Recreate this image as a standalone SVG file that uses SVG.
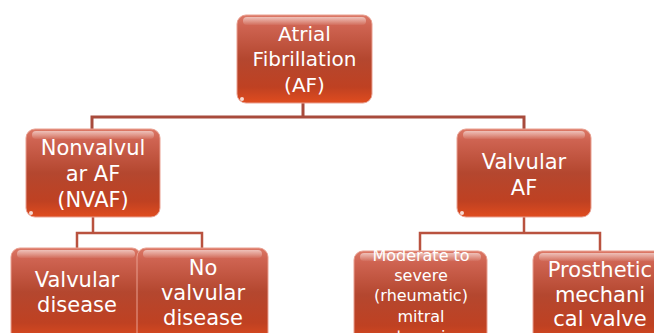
<svg xmlns="http://www.w3.org/2000/svg" width="654" height="333" viewBox="0 0 654 333">
  <defs>
    <linearGradient id="boxFill" x1="0" y1="0" x2="0" y2="1">
      <stop offset="0" stop-color="#dc7866"/>
      <stop offset="0.12" stop-color="#cf6452"/>
      <stop offset="0.5" stop-color="#b4472f"/>
      <stop offset="0.82" stop-color="#bf4122"/>
      <stop offset="1" stop-color="#e04c1f"/>
    </linearGradient>
    <linearGradient id="boxFillTall" x1="0" y1="0" x2="0" y2="1">
      <stop offset="0" stop-color="#dc7866"/>
      <stop offset="0.1" stop-color="#cf6452"/>
      <stop offset="0.4" stop-color="#b4472f"/>
      <stop offset="0.68" stop-color="#bf4122"/>
      <stop offset="0.85" stop-color="#e04c1f"/>
    </linearGradient>
    <linearGradient id="gloss" x1="0" y1="0" x2="0" y2="1">
      <stop offset="0" stop-color="#ffffff" stop-opacity="0.55"/>
      <stop offset="1" stop-color="#ffffff" stop-opacity="0.05"/>
    </linearGradient>
  </defs>
  <style>
    .box { fill: url(#boxFill); stroke: #e9a091; stroke-width: 1; }
    .tall { fill: url(#boxFillTall); }
    .gloss { fill: url(#gloss); }
    .glint { fill: #ffffff; opacity: 0.8; }
    .lbl { font-family: "DejaVu Sans", "Liberation Sans", sans-serif; font-size: 21px; fill: #ffffff; text-anchor: middle; }
    .top { font-size: 20px; }
    .sm { font-size: 16px; }
    .conn { fill: none; stroke: #a84b3c; stroke-width: 3; }
    .conn2 { fill: none; stroke: #b9523f; stroke-width: 2.5; }
  </style>

  <g id="connectors">
    <path class="conn" d="M303,103 V117 M92,117 H524 M92,115.5 V129 M524,115.5 V129"/>
    <path class="conn2" d="M93,217 V233 M77,233 H202 M77,231.8 V249 M202,231.8 V249"/>
    <path class="conn2" d="M524,217 V233 M420,233 H600 M420,231.8 V252 M600,231.8 V252"/>
  </g>

  <g id="node-af">
    <rect class="box" x="237" y="15" width="135" height="88" rx="9"/>
    <rect class="gloss" x="243" y="17" width="123" height="8" rx="4"/>
    <circle class="glint" cx="242" cy="99" r="2"/>
    <text class="lbl top" x="304.5" y="41">Atrial</text>
    <text class="lbl top" x="304.5" y="66">Fibrillation</text>
    <text class="lbl top" x="304.5" y="92">(AF)</text>
  </g>

  <g id="node-nvaf">
    <rect class="box" x="26" y="129" width="134" height="88" rx="9"/>
    <rect class="gloss" x="32" y="131" width="122" height="8" rx="4"/>
    <circle class="glint" cx="31" cy="213" r="2"/>
    <text class="lbl" x="93" y="155">Nonvalvul</text>
    <text class="lbl" x="93" y="181">ar AF</text>
    <text class="lbl" x="93" y="207">(NVAF)</text>
  </g>

  <g id="node-valvular-af">
    <rect class="box" x="457" y="129" width="134" height="88" rx="9"/>
    <rect class="gloss" x="463" y="131" width="122" height="8" rx="4"/>
    <circle class="glint" cx="462" cy="213" r="2"/>
    <text class="lbl" x="524" y="169">Valvular</text>
    <text class="lbl" x="524" y="195">AF</text>
  </g>

  <g id="node-valvular-disease">
    <rect class="box tall" x="11" y="248" width="130" height="110" rx="9"/>
    <rect class="gloss" x="17" y="250" width="118" height="8" rx="4"/>
    <text class="lbl" x="77" y="287">Valvular</text>
    <text class="lbl" x="77" y="312">disease</text>
  </g>

  <g id="node-no-valvular-disease">
    <rect class="box tall" x="137" y="248" width="131" height="110" rx="9"/>
    <rect class="gloss" x="143" y="250" width="119" height="8" rx="4"/>
    <text class="lbl" x="203" y="275">No</text>
    <text class="lbl" x="203" y="300">valvular</text>
    <text class="lbl" x="203" y="325">disease</text>
  </g>

  <g id="node-mitral-stenosis">
    <rect class="box tall" x="354" y="251" width="133" height="110" rx="9"/>
    <rect class="gloss" x="360" y="253" width="121" height="8" rx="4"/>
    <text class="lbl sm" x="421" y="261">Moderate to</text>
    <text class="lbl sm" x="421" y="281">severe</text>
    <text class="lbl sm" x="421" y="301">(rheumatic)</text>
    <text class="lbl sm" x="421" y="322">mitral</text>
    <text class="lbl sm" x="421" y="342">stenosis</text>
  </g>

  <g id="node-prosthetic-valve">
    <rect class="box tall" x="533" y="251" width="134" height="110" rx="9"/>
    <rect class="gloss" x="539" y="253" width="122" height="8" rx="4"/>
    <text class="lbl" x="600" y="277">Prosthetic</text>
    <text class="lbl" x="600" y="302">mechani</text>
    <text class="lbl" x="600" y="326">cal valve</text>
  </g>
</svg>
